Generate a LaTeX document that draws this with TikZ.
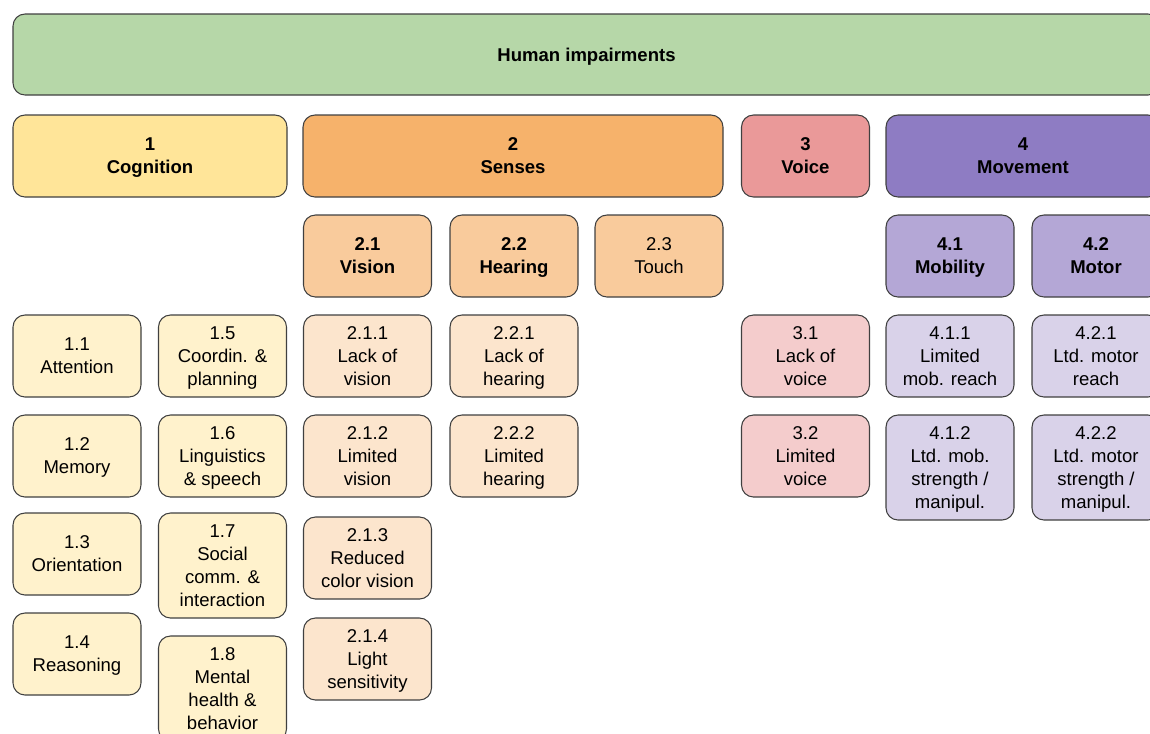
\documentclass[tikz,border=0pt]{standalone}
\usepackage{fontspec}
\setmainfont{Liberation Sans}
\definecolor{rootgreen}{HTML}{B6D7A8}
\definecolor{cogtop}{HTML}{FFE599}
\definecolor{cogleaf}{HTML}{FFF2CC}
\definecolor{sentop}{HTML}{F6B26B}
\definecolor{senmid}{HTML}{F9CB9C}
\definecolor{senleaf}{HTML}{FCE5CD}
\definecolor{voitop}{HTML}{EA9999}
\definecolor{voileaf}{HTML}{F4CCCC}
\definecolor{movtop}{HTML}{8E7CC3}
\definecolor{movmid}{HTML}{B4A7D6}
\definecolor{movleaf}{HTML}{D9D2E9}
\definecolor{rim}{HTML}{404040}
\tikzset{
  card/.style={draw=rim,line width=0.8pt,rounded corners=9pt,inner sep=0pt,align=center,
    text depth=0pt,font=\fontsize{13.9}{17.25}\selectfont,minimum width=96pt,minimum height=61.5pt},
  tallcard/.style={card,minimum height=78.75pt},
  headcard/.style={card,font=\fontsize{13.9}{17.25}\selectfont\bfseries},
}
\begin{document}
\begin{tikzpicture}[x=0.75pt,y=-0.75pt]
  \useasboundingbox (0,0) rectangle (1150,733);
  \clip (0,0) rectangle (1150,733);
  % top level
  \node[headcard,fill=rootgreen,minimum width=860.25pt,minimum height=60.75pt] (root) at (586.5,54.5) {Human impairments};
  \node[headcard,fill=cogtop,minimum width=205.5pt] (cog) at (150,156) {1\\Cognition};
  \node[headcard,fill=sentop,minimum width=315pt] (sen) at (513,156) {2\\Senses};
  \node[headcard,fill=voitop] (voi) at (805.5,156) {3\\Voice};
  \node[headcard,fill=movtop,minimum width=205.5pt] (mov) at (1023,156) {4\\Movement};
  % second level
  \node[headcard,fill=senmid] (vis) at (367.5,256) {2.1\\Vision};
  \node[headcard,fill=senmid] (hear) at (514,256) {2.2\\Hearing};
  \node[card,fill=senmid] (touch) at (659,256) {2.3\\Touch};
  \node[headcard,fill=movmid] (mob) at (950,256) {4.1\\Mobility};
  \node[headcard,fill=movmid] (mot) at (1096,256) {4.2\\Motor};
  % cognition leaves
  \foreach \id/\y/\txt in {1/356/{1.1\\Attention},2/456/{1.2\\Memory},
      3/554/{1.3\\Orientation},4/654/{1.4\\Reasoning}}
    \node[card,fill=cogleaf] (cog\id) at (77,\y) {\txt};
  \node[card,fill=cogleaf] (cog5) at (222.5,356) {1.5\\Coordin. \&\\planning};
  \node[card,fill=cogleaf] (cog6) at (222.5,456) {1.6\\Linguistics\\\& speech};
  \node[tallcard,fill=cogleaf] (cog7) at (222.5,565.5) {1.7\\Social\\comm. \&\\interaction};
  \node[tallcard,fill=cogleaf] (cog8) at (222.5,688.5) {1.8\\Mental\\health \&\\behavior};
  % senses leaves
  \foreach \id/\y/\txt in {1/356/{2.1.1\\Lack of\\vision},2/456/{2.1.2\\Limited\\vision},
      3/558/{2.1.3\\Reduced\\color vision},4/659/{2.1.4\\Light\\sensitivity}}
    \node[card,fill=senleaf] (vis\id) at (367.5,\y) {\txt};
  \node[card,fill=senleaf] (hear1) at (514,356) {2.2.1\\Lack of\\hearing};
  \node[card,fill=senleaf] (hear2) at (514,456) {2.2.2\\Limited\\hearing};
  % voice leaves
  \node[card,fill=voileaf] (voi1) at (805.5,356) {3.1\\Lack of\\voice};
  \node[card,fill=voileaf] (voi2) at (805.5,456) {3.2\\Limited\\voice};
  % movement leaves
  \node[card,fill=movleaf] (mob1) at (950,356) {4.1.1\\Limited\\mob. reach};
  \node[tallcard,fill=movleaf] (mob2) at (950,467.5) {4.1.2\\Ltd. mob.\\strength /\\manipul.};
  \node[card,fill=movleaf] (mot1) at (1096,356) {4.2.1\\Ltd. motor\\reach};
  \node[tallcard,fill=movleaf] (mot2) at (1096,467.5) {4.2.2\\Ltd. motor\\strength /\\manipul.};
\end{tikzpicture}
\end{document}
